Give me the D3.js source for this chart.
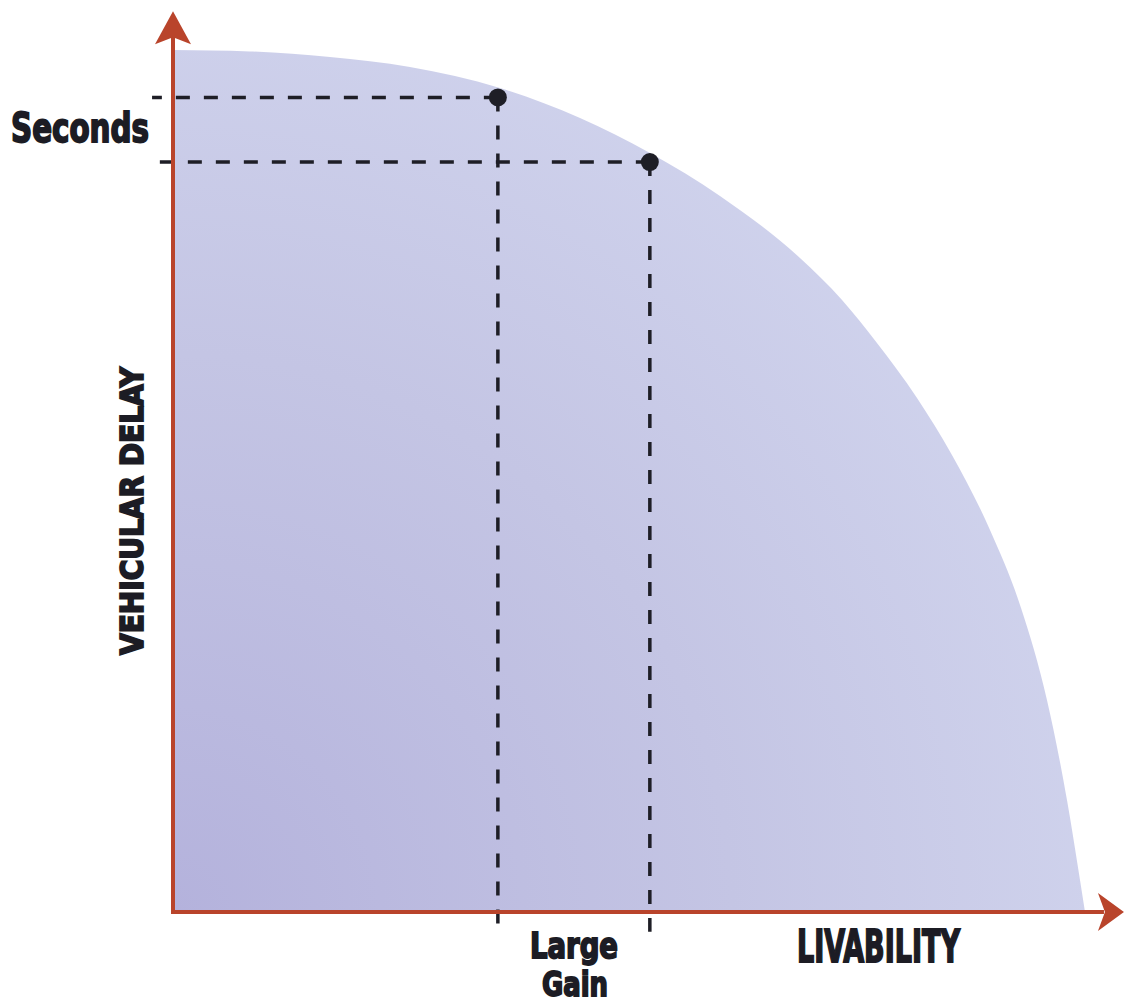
<!DOCTYPE html>
<html lang="en">
<head>
  <meta charset="UTF-8">
  <title>Vehicular delay vs livability</title>
  <script src="https://cdn.jsdelivr.net/npm/d3@7"></script>
  <style>
    html, body { margin: 0; padding: 0; background: #fff; }
    svg { display: block; }
    .lbl { font-family: "Liberation Sans Narrow", "DejaVu Sans Condensed", sans-serif; font-weight: bold; fill: #1c1c24; stroke: #1c1c24; stroke-width: 1.8px; }
  </style>
</head>
<body>
  <svg width="1125" height="1005"></svg>

  <script>
    // frontier of the shaded area (livability, delay)
    const frontierX = [0, 8.46, 17.25, 26.04, 35.93, 44.73, 52.42, 60.11, 68.90, 73.52, 77.36, 81.76, 85.60, 89.78, 93.19, 96.04, 98.24, 99.67, 100.22];
    const frontierY = [100, 99.83, 99.19, 98.03, 95.59, 92.11, 88.05, 83.06, 75.87, 71.00, 66.01, 59.63, 53.02, 44.32, 35.27, 24.59, 12.99, 3.71, 0];

    // the two marked operating points
    const pointX = [35.7, 52.4];
    const pointY = [94.5, 87.0];

    const axisMax = 104.5;   // where the arrows end
    const overshoot = 2.3;   // dashed guides run a little past the axes

    const svg = d3.select("svg");

    // scales
    const x = d3.scaleLinear().domain([0, 100]).range([173, 1083]);
    const y = d3.scaleLinear().domain([0, 100]).range([912, 50]);

    // gradient for the shaded region
    const defs = svg.append("defs");
    const grad = defs.append("radialGradient")
      .attr("id", "shade")
      .attr("gradientUnits", "userSpaceOnUse")
      .attr("cx", x(0)).attr("cy", y(0)).attr("r", 930);
    grad.append("stop").attr("offset", "0%").attr("stop-color", "#b4b2dc");
    grad.append("stop").attr("offset", "60%").attr("stop-color", "#c4c5e4");
    grad.append("stop").attr("offset", "100%").attr("stop-color", "#cfd2ec");

    const frontier = frontierX.map((d, i) => [d, frontierY[i]]);

    const area = d3.area()
      .x(d => x(d[0]))
      .y0(y(0))
      .y1(d => y(d[1]))
      .curve(d3.curveMonotoneX);

    svg.append("path")
      .datum(frontier)
      .attr("d", area)
      .attr("fill", "url(#shade)");

    // dashed guides
    const points = pointX.map((d, i) => ({ x: d, y: pointY[i] }));
    const guides = svg.append("g")
      .attr("stroke", "#1e1e26")
      .attr("stroke-width", 3.5)
      .attr("stroke-dasharray", "14,14");

    guides.selectAll(".h").data(points).join("line")
      .attr("class", "h")
      .attr("x1", d => x(d.x)).attr("x2", x(-overshoot))
      .attr("y1", d => y(d.y)).attr("y2", d => y(d.y));

    guides.selectAll(".v").data(points).join("line")
      .attr("class", "v")
      .attr("x1", d => x(d.x)).attr("x2", d => x(d.x))
      .attr("y1", d => y(d.y)).attr("y2", y(-overshoot));

    // axes
    const axisColor = "#b9442b";
    svg.append("line")
      .attr("x1", x(0)).attr("y1", y(0))
      .attr("x2", x(0)).attr("y2", y(axisMax) + 20)
      .attr("stroke", axisColor).attr("stroke-width", 4);
    svg.append("line")
      .attr("x1", x(0) - 2).attr("y1", y(0))
      .attr("x2", x(axisMax) - 20).attr("y2", y(0))
      .attr("stroke", axisColor).attr("stroke-width", 4);

    // arrowheads
    const tipY = [x(0), y(axisMax)];
    svg.append("path")
      .attr("d", `M${tipY[0]},${tipY[1]} L${tipY[0] + 18},${tipY[1] + 33} L${tipY[0]},${tipY[1] + 26} L${tipY[0] - 18},${tipY[1] + 33} Z`)
      .attr("fill", axisColor);
    const tipX = [x(axisMax), y(0)];
    svg.append("path")
      .attr("d", `M${tipX[0]},${tipX[1]} L${tipX[0] - 26},${tipX[1] - 19} L${tipX[0] - 19},${tipX[1]} L${tipX[0] - 26},${tipX[1] + 19} Z`)
      .attr("fill", axisColor);

    // points
    svg.selectAll(".pt").data(points).join("circle")
      .attr("class", "pt")
      .attr("cx", d => x(d.x)).attr("cy", d => y(d.y))
      .attr("r", 9)
      .attr("fill", "#1e1e26");

    // labels
    svg.append("text").attr("class", "lbl")
      .attr("x", 11).attr("y", 142)
      .attr("font-size", 40)
      .attr("textLength", 138).attr("lengthAdjust", "spacingAndGlyphs")
      .text("Seconds");

    svg.append("text").attr("class", "lbl")
      .attr("transform", "translate(143,511) rotate(-90)")
      .attr("text-anchor", "middle")
      .attr("font-size", 32)
      .attr("textLength", 288).attr("lengthAdjust", "spacingAndGlyphs")
      .text("VEHICULAR DELAY");

    svg.append("text").attr("class", "lbl")
      .attr("x", 797).attr("y", 962)
      .attr("font-size", 44)
      .attr("textLength", 163).attr("lengthAdjust", "spacingAndGlyphs")
      .text("LIVABILITY");

    svg.append("text").attr("class", "lbl")
      .attr("x", 574).attr("y", 958)
      .attr("text-anchor", "middle")
      .attr("font-size", 36)
      .attr("textLength", 88).attr("lengthAdjust", "spacingAndGlyphs")
      .text("Large");

    svg.append("text").attr("class", "lbl")
      .attr("x", 575).attr("y", 996)
      .attr("text-anchor", "middle")
      .attr("font-size", 34)
      .attr("textLength", 66).attr("lengthAdjust", "spacingAndGlyphs")
      .text("Gain");
  </script>
</body>
</html>
